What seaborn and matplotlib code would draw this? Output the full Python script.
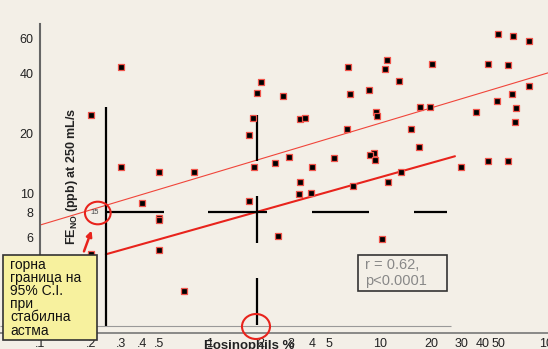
import matplotlib.pyplot as plt
import matplotlib.patches as mpatches
from matplotlib.ticker import NullLocator
import seaborn as sns

# Eosinophils % vs FE_NO (ppb)
eos = [0.2, 0.3, 0.3, 0.5, 0.8, 2.0, 1.9, 2.68, 1.8, 1.69,
       6.49, 6.69, 8.59, 3.38, 3.62, 9.47, 9.64, 6.37, 1.82, 2.4,
       2.92, 5.38, 4.0, 9.18, 8.69, 9.31, 49.4, 60.4, 75.2, 11.0,
       10.7, 20.3, 43.4, 56.6, 13.0, 75.2, 59.6, 48.8, 63.4, 62.3,
       36.7, 17.2, 19.6, 15.3, 16.9, 43.4, 56.6, 30.1, 13.3, 11.1,
       10.3, 3.38, 3.33, 3.95, 6.9, 1.69, 2.51, 0.7, 0.4, 0.5,
       0.5, 0.5, 0.2]
feno = [24.7, 43.0, 13.5, 12.8, 12.8, 36.0, 31.7, 30.6, 23.9, 19.5,
        43.0, 31.3, 32.8, 23.6, 23.9, 25.4, 24.4, 21.0, 13.5, 14.1,
        15.2, 15.0, 13.5, 15.8, 15.5, 14.6, 62.7, 61.2, 58.2, 46.5,
        42.0, 44.5, 44.5, 44.0, 36.6, 34.3, 31.3, 28.9, 26.7, 22.8,
        25.4, 27.0, 27.0, 21.0, 17.0, 14.4, 14.4, 13.5, 12.7, 11.4,
        5.85, 11.4, 9.92, 10.0, 10.8, 9.12, 6.06, 3.22, 8.9, 7.52,
        7.32, 5.19, 4.95]

# regression line and upper limit line
fit_x = [0.244, 27.6]
fit_y = [4.92, 15.3]
upper_x = [0.1, 115]
upper_y = [6.9, 41.9]

# black marker lines (medians / ranges) at FE_NO = 8
v_x = [0.243, 1.89, 1.89, 1.89]
v_y0 = [2.12, 14.5, 5.61, 2.17]
v_y1 = [27.0, 24.7, 9.66, 3.74]
h_y = 8.0
h_x0 = [0.243, 0.973, 3.96, 15.85]
h_x1 = [0.536, 2.16, 8.61, 24.8]

xticks = [0.1, 0.2, 0.3, 0.4, 0.5, 1, 2, 3, 4, 5, 10, 20, 30, 40, 50, 100]
xtick_labels = ['.1', '.2', '.3', '.4', '.5', '1', '2', '3', '4', '5',
                '10', '20', '30', '40', '50', '100']
yticks = [6, 8, 10, 20, 40, 60]
ytick_labels = ['6', '8', '10', '20', '40', '60']

bg = '#f3efe7'
red = '#e8231c'

sns.set_theme(style="white")
plt.rcParams['font.family'] = ['Liberation Sans', 'DejaVu Sans']
plt.rcParams['mathtext.fontset'] = 'custom'
plt.rcParams['mathtext.rm'] = 'Liberation Sans'
plt.rcParams['mathtext.bf'] = 'Liberation Sans:bold'

W, H = 548, 349
fig = plt.figure(figsize=(W / 100, H / 100), dpi=100, facecolor=bg)
ax = fig.add_axes([0, 16 / H, 560 / W, 309 / H])
ax.set_facecolor(bg)


def fx(px):
    return px / W


def fy(py):
    return 1 - py / H


sns.lineplot(x=upper_x, y=upper_y, ax=ax, color='#f0453a', linewidth=0.8, errorbar=None)
sns.lineplot(x=fit_x, y=fit_y, ax=ax, color=red, linewidth=1.5, errorbar=None)
ax.vlines(v_x, v_y0, v_y1, color='black', linewidth=1.6)
ax.hlines([h_y] * len(h_x0), h_x0, h_x1, color='black', linewidth=1.6)
sns.scatterplot(x=eos, y=feno, ax=ax, marker='s', s=16, color='black',
                edgecolor='#f0554c', linewidth=0.9, zorder=5)

ax.set_xscale('log')
ax.set_yscale('log')
xmin = 10 ** (-1 - 40 / 170)
ax.set_xlim(xmin, 10 ** (-1 + 520 / 170))
ax.set_ylim(10 ** (1 - 140 / 199), 10 ** (1 + 169 / 199))
ax.hlines(2.15, xmin, 26.2, color='#999999', linewidth=0.8)

ax.set_xticks(xticks, xtick_labels)
ax.set_yticks(yticks, ytick_labels)
ax.xaxis.set_minor_locator(NullLocator())
ax.yaxis.set_minor_locator(NullLocator())
ax.tick_params(axis='x', length=2.2, width=2.5, color='black', pad=1.5,
               labelsize=9, labelcolor='#222222')
ax.tick_params(axis='y', length=3, width=2.2, color='black', pad=1.5,
               labelsize=9, labelcolor='#222222')

sns.despine(ax=ax)
ax.spines['left'].set_position(('data', 0.1))
ax.spines['left'].set_color('#666666')
ax.spines['left'].set_linewidth(1.5)
ax.spines['bottom'].set_color('#777777')
ax.spines['bottom'].set_linewidth(1.2)

ax.set_xlabel('Eosinophils %', fontsize=9.5, fontweight='bold', color='#222222')
ax.xaxis.set_label_coords(249 / 560, -7 / 309)
fig.text(fx(72), fy(176), r'FE$_{\mathbf{NO}}$ (ppb) at 250 mL/s', rotation=90,
         ha='center', va='center', fontsize=9, fontweight='bold', color='#222222')

# "15" with red circle
fig.text(fx(94.3), fy(212.7), '15', fontsize=5.5, color='#444444', ha='center', va='center')
fig.add_artist(mpatches.Ellipse((fx(97.8), fy(213)), 25.7 / W, 22.6 / H,
                                transform=fig.transFigure, fill=False, ec=red, lw=1.5, zorder=6))
fig.add_artist(mpatches.Ellipse((fx(256), fy(326.5)), 28 / W, 25 / H,
                                transform=fig.transFigure, fill=False, ec=red, lw=1.5, zorder=6))
fig.add_artist(mpatches.FancyArrowPatch((fx(83), fy(254)), (fx(92.5), fy(228)),
                                        transform=fig.transFigure, arrowstyle='-|>',
                                        mutation_scale=8, color=red, lw=1.8, zorder=6))

# yellow note box
fig.add_artist(mpatches.Rectangle((fx(3.3), fy(340)), 93.4 / W, 85 / H,
                                  transform=fig.transFigure, fc='#f7f19e', ec='#333333',
                                  lw=1.2, zorder=6))
fig.text(fx(10), fy(257.5), 'горна\nграница на\n95% C.I.\nпри\nстабилна\nастма',
         fontsize=10, linespacing=0.93, ha='left', va='top', color='#111111', zorder=7)

# correlation box
fig.add_artist(mpatches.Rectangle((fx(357.7), fy(291)), 89 / W, 36 / H,
                                  transform=fig.transFigure, fc=bg, ec='#333333',
                                  lw=1.2, zorder=6))
fig.text(fx(365), fy(273), 'r = 0.62,\np<0.0001', fontsize=10.5, linespacing=1.15,
         ha='left', va='center', color='#888888', zorder=7)

fig.savefig('out.png', dpi=100, facecolor=bg)
